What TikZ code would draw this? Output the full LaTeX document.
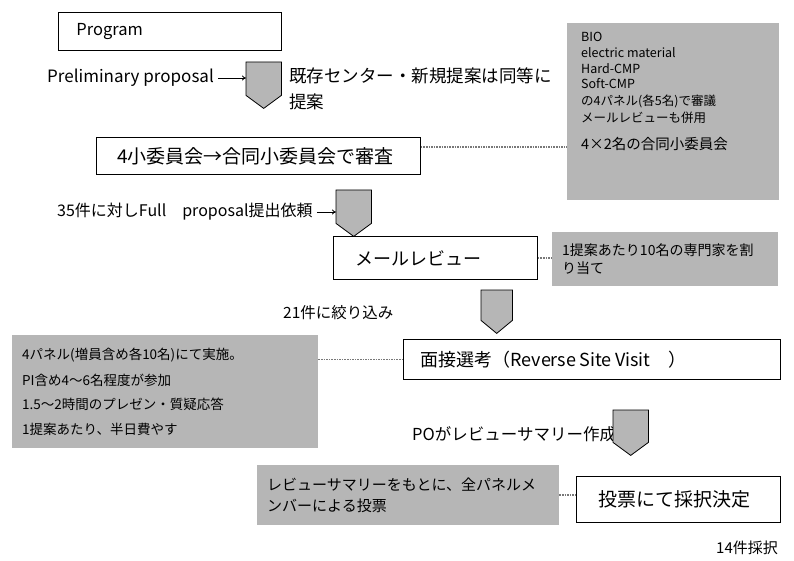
\documentclass[tikz,border=0pt]{standalone}
\usepackage{fontspec}
\setmainfont{Noto Sans CJK JP}
\usetikzlibrary{arrows.meta, positioning}
\definecolor{panelgray}{RGB}{182,182,182}
\definecolor{linkgray}{RGB}{120,120,120}
\newcommand{\fs}[1]{\fontsize{#1}{#1}\selectfont}
\tikzset{
  flowbox/.style={draw, line width=0.8pt, anchor=north west, align=left, inner ysep=0pt},
  notebox/.style={fill=panelgray, anchor=north west, align=left, inner xsep=10pt, inner ysep=0pt},
  signbox/.style={inner sep=0pt, anchor=north west},
  signfill/.style={draw, line width=0.8pt, fill=panelgray},
  label/.style={anchor=west, inner sep=0pt},
  link/.style={linkgray, line width=1.6pt, densely dotted},
  pointer/.style={line width=0.8pt, -{To[length=4pt,width=5pt]}}
}
% gray pentagon pointing down: name, corner, width, height
\newcommand{\downsign}[4]{%
  \node[signbox, minimum width=#3pt, minimum height=#4pt] (#1) at (#2) {};
  \draw[signfill] (#1.north west) -- (#1.north east) -- ([yshift=13pt]#1.south east)
    -- (#1.south) -- ([yshift=13pt]#1.south west) -- cycle;}

\begin{document}
\begin{tikzpicture}[x=1pt, y=-1pt]
  \useasboundingbox (0,0) rectangle (794,561);

  \node[flowbox, minimum width=223pt, minimum height=38pt, text width=187pt, inner xsep=18pt]
    (program) at (58,12) {\fs{16.5}Program};

  \node[label] (prelim) at (47,78) {\fs{17}Preliminary proposal};
  \downsign{signA}{246,62}{35}{46}
  \node[label, align=left, font=\fs{17.5}] (equal) at (289,89)
    {既存センター・新規提案は同等に\\[8pt]提案};
  \draw[pointer] (prelim.east) ++(4,0) -- (prelim.east -| signA.west);

  \node[notebox, minimum width=212pt, minimum height=177pt] (panels) at (567,23) {};
  \node[label, anchor=north west, align=left, font=\fs{12.5}] (panellist)
    at ([xshift=14pt,yshift=-9pt]panels.north west)
    {BIO\\[3.5pt]electric material\\[3pt]Hard-CMP\\[3pt]Soft-CMP\\[4.5pt]の4パネル(各5名)で審議\\[3.5pt]メールレビューも併用\\[12pt]\fs{14.5}4×2名の合同小委員会};

  \node[flowbox, minimum width=324pt, minimum height=37pt, text width=282pt, inner xsep=21pt]
    (subcom) at (96,137) {\fs{19}4小委員会→合同小委員会で審査};
  \draw[link] ([yshift=9pt]subcom.east) -- ([yshift=9pt]subcom.east -| panels.west);

  \node[label] (full) at (57,212) {\fs{16}35件に対しFull\quad proposal提出依頼};
  \downsign{signB}{336,190}{35}{46}
  \draw[pointer] (full.east) ++(4,0) -- (full.east -| signB.west);

  \node[flowbox, minimum width=204pt, minimum height=43pt, text width=160pt, inner xsep=22pt]
    (mail) at (333,236) {\fs{18}メールレビュー};
  \node[notebox, minimum width=226pt, minimum height=54pt, text width=206pt, font=\fs{14}]
    (experts) at (552,232) {1提案あたり10名の専門家を割\\[4pt]り当て};
  \draw[link] (mail.east) -- (mail.east -| experts.west);

  \downsign{signC}{481,290}{31}{43}
  \node[label] (narrow) at (283,313) {\fs{15.5}21件に絞り込み};

  \node[notebox, minimum width=306pt, minimum height=113pt, text width=286pt, font=\fs{13.5}]
    (visit) at (12,335)
    {4パネル(増員含め各10名)にて実施。\\[11pt]PI含め4～6名程度が参加\\[11pt]1.5～2時間のプレゼン・質疑応答\\[11pt]1提案あたり、半日費やす};

  \node[flowbox, minimum width=377pt, minimum height=40pt, text width=343pt, inner xsep=17pt]
    (rsv) at (403,339) {\fs{18}面接選考（Reverse Site Visit\quad ）};
  \draw[link] (rsv.west -| visit.east) -- (rsv.west);

  \node[label] (summary) at (412,434) {\fs{16.5}POがレビューサマリー作成};
  \downsign{signD}{613,410}{35}{45}

  \node[notebox, minimum width=302pt, minimum height=60pt, text width=282pt, font=\fs{15}]
    (ballot) at (257,465) {レビューサマリーをもとに、全パネルメ\\[6pt]ンバーによる投票};
  \node[flowbox, minimum width=204pt, minimum height=46pt, text width=160pt, inner xsep=22pt]
    (vote) at (576,476) {\fs{19}投票にて採択決定};
  \draw[link] (ballot.east) -- (ballot.east -| vote.west);

  \node[label] (adopt) at (716,548) {\fs{15}14件採択};
\end{tikzpicture}
\end{document}
